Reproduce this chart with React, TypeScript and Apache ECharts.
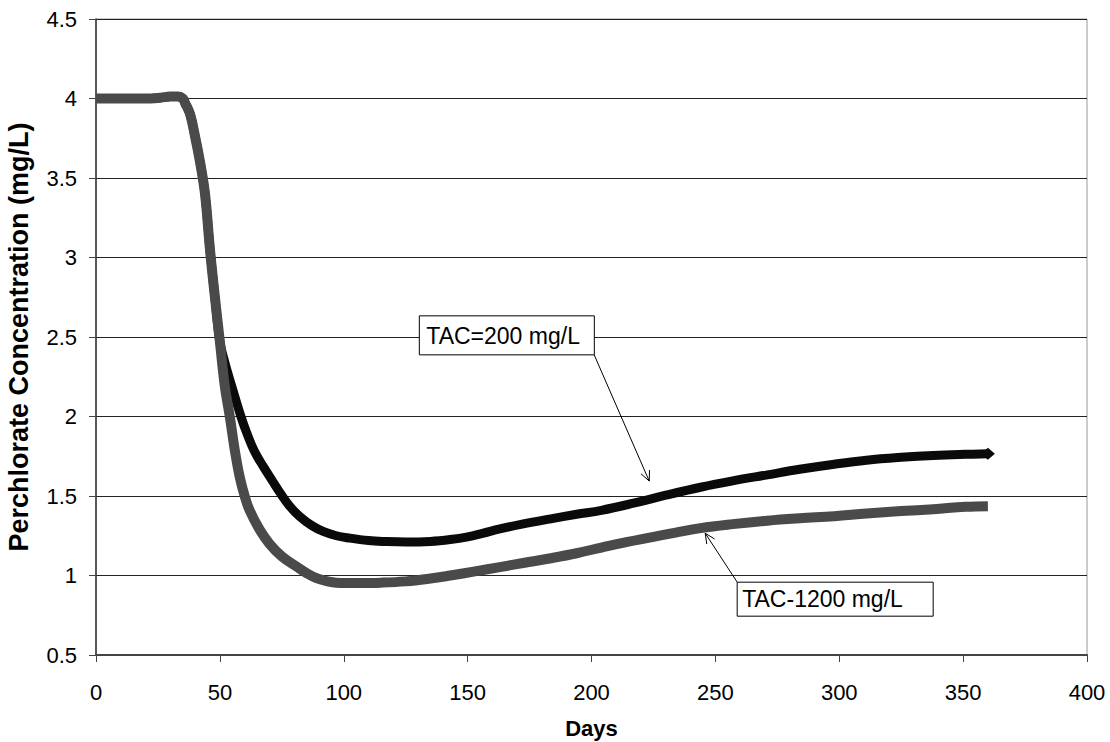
import React, { useEffect, useRef } from "react";
import * as echarts from "echarts";

// TAC = 200 mg/L (black curve)
const days200 = [0, 10, 20, 26, 30, 33, 35, 36, 38, 40, 42, 44, 46, 48, 50, 52, 54.8, 58.5, 61, 64, 67.5, 71, 74.3, 78, 82.3, 87, 91.7, 97, 102.5, 110, 116, 125, 135, 143, 150, 156, 163, 172, 183, 194, 204, 217, 230, 244, 257, 271, 284, 298, 311, 325, 338, 351, 360];
const vals200 = [4.0, 4.0, 4.0, 4.005, 4.012, 4.013, 4.0, 3.97, 3.9, 3.76, 3.6, 3.4, 3.05, 2.75, 2.47, 2.34, 2.19, 2.0, 1.89, 1.78, 1.686, 1.6, 1.52, 1.44, 1.37, 1.315, 1.277, 1.25, 1.235, 1.22, 1.214, 1.21, 1.214, 1.226, 1.243, 1.265, 1.293, 1.323, 1.355, 1.385, 1.41, 1.455, 1.505, 1.555, 1.595, 1.633, 1.668, 1.7, 1.725, 1.743, 1.755, 1.762, 1.765];

// TAC = 1200 mg/L (grey curve)
const days1200 = [0, 10, 20, 26, 30, 33, 35, 36, 38, 40, 42, 44, 46, 48, 50, 52, 54, 56, 58, 60, 62, 66, 70, 75, 81, 85, 89, 93, 97, 105, 115, 125, 135, 143, 153, 163, 173, 183, 194, 204, 214, 224, 234, 244, 257, 271, 284, 298, 311, 325, 338, 351, 360];
const vals1200 = [4.0, 4.0, 4.0, 4.005, 4.012, 4.013, 4.0, 3.97, 3.9, 3.76, 3.6, 3.4, 3.05, 2.75, 2.47, 2.19, 2.0, 1.79, 1.62, 1.5, 1.41, 1.29, 1.2, 1.12, 1.056, 1.015, 0.983, 0.965, 0.955, 0.953, 0.955, 0.963, 0.981, 1.0, 1.026, 1.053, 1.08, 1.107, 1.14, 1.176, 1.21, 1.24, 1.27, 1.298, 1.323, 1.345, 1.36, 1.373, 1.39, 1.405, 1.417, 1.432, 1.436];

const xTicks = { min: 0, max: 400, interval: 50 };
const yTicks = { min: 0.5, max: 4.5, interval: 0.5 };

const label200 = "TAC=200 mg/L";
const label1200 = "TAC-1200 mg/L";

const FONT = "'Liberation Sans', Arial, Helvetica, sans-serif";

export default function App() {
  const ref = useRef<HTMLDivElement>(null);

  useEffect(() => {
    document.body.style.margin = "0";
    if (!ref.current) return;
    const chart = echarts.init(ref.current, null, { renderer: "svg" });

    const black = days200.map((d, i) => {
      if (i === days200.length - 1) {
        return { value: [d, vals200[i]], symbol: "diamond", symbolSize: [14, 12], itemStyle: { color: "#0a0a0a" } };
      }
      return { value: [d, vals200[i]], symbol: "none" };
    });
    const grey = days1200.map((d, i) => [d, vals1200[i]]);

    chart.setOption({
      animation: false,
      backgroundColor: "#ffffff",
      grid: {
        left: 96,
        right: 23,
        top: 19,
        bottom: 87,
        containLabel: false,
        outerBoundsMode: "none",
        show: true,
        borderColor: "#999999",
        borderWidth: 1,
      },
      xAxis: {
        type: "value",
        min: xTicks.min,
        max: xTicks.max,
        interval: xTicks.interval,
        name: "Days",
        nameLocation: "middle",
        nameGap: 62,
        nameTextStyle: { fontFamily: FONT, fontSize: 22, fontWeight: "bold", color: "#000" },
        axisLine: { show: true, lineStyle: { color: "#444", width: 2 } },
        axisTick: { show: true, inside: false, length: 7, lineStyle: { color: "#444" } },
        axisLabel: { fontFamily: FONT, fontSize: 22, color: "#000", margin: 26 },
        splitLine: { show: false },
      },
      yAxis: {
        type: "value",
        min: yTicks.min,
        max: yTicks.max,
        interval: yTicks.interval,
        name: "Perchlorate Concentration (mg/L)",
        nameLocation: "middle",
        nameGap: 64,
        nameRotate: 90,
        nameTextStyle: { fontFamily: FONT, fontSize: 27, fontWeight: "bold", color: "#000" },
        axisLine: { show: true, lineStyle: { color: "#333", width: 1.5 } },
        axisTick: { show: true, inside: false, length: 7, lineStyle: { color: "#444" } },
        axisLabel: { fontFamily: FONT, fontSize: 22, color: "#000", margin: 19 },
        splitLine: { show: true, lineStyle: { color: "#222", width: 1 } },
      },
      series: [
        {
          name: label200,
          type: "line",
          data: black,
          showSymbol: true,
          symbol: "none",
          smooth: 0.4,
          lineStyle: { color: "#0a0a0a", width: 9, join: "round" },
          itemStyle: { color: "#0a0a0a" },
          z: 3,
        },
        {
          name: label1200,
          type: "line",
          data: grey,
          showSymbol: false,
          symbol: "none",
          smooth: 0.4,
          lineStyle: { color: "#4a4a4a", width: 10, cap: "butt", join: "round" },
          z: 4,
        },
      ],
    });

    const px = (d: number, v: number) => chart.convertToPixel({ gridIndex: 0 }, [d, v]) as number[];

    const arrowHead = (tip: number[], from: number[]) => {
      const dx = from[0] - tip[0];
      const dy = from[1] - tip[1];
      const len = Math.hypot(dx, dy);
      const ux = dx / len;
      const uy = dy / len;
      const L = 11;
      const a = (25 * Math.PI) / 180;
      const r = (x: number, y: number, ang: number) => [x * Math.cos(ang) - y * Math.sin(ang), x * Math.sin(ang) + y * Math.cos(ang)];
      const p1 = r(ux * L, uy * L, a);
      const p2 = r(ux * L, uy * L, -a);
      return [
        [tip[0] + p1[0], tip[1] + p1[1]],
        [tip[0], tip[1]],
        [tip[0] + p2[0], tip[1] + p2[1]],
      ];
    };

    // annotation anchors (data coords)
    const box1 = px(130.5, 2.633);
    const a1from = px(201.1, 2.387);
    const a1to = px(223.3, 1.594);
    const box2 = px(258.8, 0.958);
    const a2to = px(245.9, 1.266);

    chart.setOption({
      graphic: [
        {
          type: "line",
          shape: { x1: a1from[0], y1: a1from[1], x2: a1to[0], y2: a1to[1] },
          style: { stroke: "#000", lineWidth: 1 },
          z: 10,
        },
        {
          type: "polyline",
          shape: { points: arrowHead(a1to, a1from) },
          style: { stroke: "#000", lineWidth: 1, fill: null },
          z: 10,
        },
        {
          type: "rect",
          shape: { x: box1[0], y: box1[1], width: 175, height: 39 },
          style: { fill: "#fff", stroke: "#000", lineWidth: 1 },
          z: 11,
        },
        {
          type: "text",
          x: box1[0] + 7,
          y: box1[1] + 20,
          style: { text: label200, font: `23px ${FONT}`, fill: "#000", verticalAlign: "middle", align: "left" },
          z: 12,
        },
        {
          type: "line",
          shape: { x1: box2[0], y1: box2[1], x2: a2to[0], y2: a2to[1] },
          style: { stroke: "#000", lineWidth: 1 },
          z: 10,
        },
        {
          type: "polyline",
          shape: { points: arrowHead(a2to, box2) },
          style: { stroke: "#000", lineWidth: 1, fill: null },
          z: 10,
        },
        {
          type: "rect",
          shape: { x: box2[0], y: box2[1], width: 196, height: 34 },
          style: { fill: "#fff", stroke: "#000", lineWidth: 1 },
          z: 11,
        },
        {
          type: "text",
          x: box2[0] + 5,
          y: box2[1] + 17,
          style: { text: label1200, font: `23px ${FONT}`, fill: "#000", verticalAlign: "middle", align: "left" },
          z: 12,
        },
      ],
    });

    return () => chart.dispose();
  }, []);

  return <div ref={ref} style={{ width: 1110, height: 742 }} />;
}
